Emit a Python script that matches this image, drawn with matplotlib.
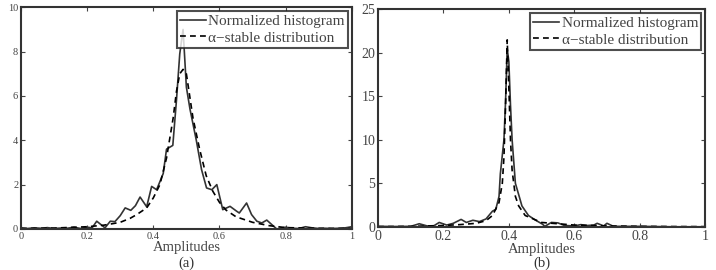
import numpy as np
import matplotlib
matplotlib.use('Agg')
import matplotlib.pyplot as plt

plt.rcParams['font.family'] = ['Liberation Serif', 'DejaVu Serif']

# panel (a): normalized histogram
xa_hist = [0.0, 0.02, 0.04, 0.06, 0.08, 0.10, 0.12, 0.14, 0.16, 0.18, 0.20, 0.215,
           0.229, 0.254, 0.27, 0.284, 0.30, 0.315, 0.332, 0.346, 0.36, 0.38, 0.395,
           0.41, 0.43, 0.44, 0.459, 0.47, 0.48, 0.49, 0.50, 0.511, 0.53, 0.546, 0.561,
           0.577, 0.592, 0.61, 0.632, 0.652, 0.66, 0.682, 0.697, 0.713, 0.728, 0.743,
           0.758, 0.773, 0.80, 0.82, 0.84, 0.86, 0.88, 0.90, 0.92, 0.94, 0.96, 0.98, 1.0]
ya_hist = [0.05, 0.02, 0.05, 0.03, 0.06, 0.02, 0.04, 0.03, 0.08, 0.02, 0.08, 0.05,
           0.35, 0.05, 0.35, 0.33, 0.6, 0.95, 0.84, 1.05, 1.44, 1.0, 1.92,
           1.77, 2.5, 3.6, 3.77, 5.8, 7.9, 9.0, 6.4, 5.4, 4.0, 2.67, 1.85,
           1.77, 2.0, 0.87, 1.02, 0.8, 0.72, 1.17, 0.65, 0.35, 0.27, 0.4,
           0.2, 0.0, 0.08, 0.03, 0.02, 0.1, 0.05, 0.02, 0.03, 0.02, 0.03, 0.05, 0.1]

# panel (a): alpha-stable fit
xa_fit = [0.0, 0.1, 0.2, 0.25, 0.27, 0.30, 0.33, 0.35, 0.38, 0.40, 0.42, 0.44, 0.46,
          0.47, 0.48, 0.49, 0.50, 0.51, 0.52, 0.54, 0.56, 0.58, 0.60, 0.62, 0.65,
          0.70, 0.75, 0.80, 0.90, 1.0]
ya_fit = [0.02, 0.04, 0.1, 0.17, 0.22, 0.3, 0.48, 0.65, 0.95, 1.4, 2.0, 3.2, 5.0,
          6.2, 7.0, 7.2, 7.0, 6.0, 5.0, 3.6, 2.4, 1.7, 1.2, 0.85, 0.55,
          0.3, 0.15, 0.06, 0.03, 0.02]

# panel (b): normalized histogram
xb_hist = [0.0, 0.05, 0.10, 0.126, 0.15, 0.17, 0.187, 0.21, 0.23, 0.254, 0.27, 0.29,
           0.31, 0.33, 0.35, 0.36, 0.37, 0.374, 0.385, 0.39, 0.395, 0.40, 0.405, 0.41,
           0.42, 0.432, 0.44, 0.46, 0.48, 0.503, 0.51, 0.53, 0.55, 0.57, 0.60, 0.62,
           0.64, 0.66, 0.67, 0.69, 0.70, 0.72, 0.80, 0.90, 1.0]
yb_hist = [0.05, 0.03, 0.05, 0.35, 0.1, 0.1, 0.5, 0.2, 0.4, 0.85, 0.5, 0.75,
           0.6, 0.9, 1.8, 2.0, 3.5, 6.1, 10.0, 14.5, 20.5, 19.0, 14.0, 10.0,
           5.0, 3.45, 2.4, 1.3, 0.8, 0.3, 0.05, 0.5, 0.45, 0.15, 0.1, 0.25,
           0.15, 0.2, 0.4, 0.1, 0.4, 0.05, 0.05, 0.0, 0.0]

# panel (b): alpha-stable fit
xb_fit = [0.0, 0.1, 0.2, 0.25, 0.30, 0.33, 0.35, 0.37, 0.38, 0.385, 0.39, 0.395,
          0.40, 0.405, 0.41, 0.42, 0.43, 0.45, 0.50, 0.60, 0.70, 0.80, 0.90, 1.0]
yb_fit = [0.02, 0.05, 0.15, 0.25, 0.4, 0.7, 1.3, 2.8, 5.0, 8.0, 14.0, 21.5,
          16.0, 10.0, 6.5, 3.5, 2.4, 1.3, 0.5, 0.2, 0.1, 0.05, 0.03, 0.02]

fig = plt.figure(figsize=(7.16, 2.7), dpi=100)
ax1 = fig.add_axes([0.0293, 0.152, 0.462, 0.821])
ax2 = fig.add_axes([0.528, 0.160, 0.4567, 0.805])

panels = [
    (ax1, xa_hist, ya_hist, xa_fit, ya_fit, 10, [0, 2, 4, 6, 8, 10], 7.5, '(a)'),
    (ax2, xb_hist, yb_hist, xb_fit, yb_fit, 25, [0, 5, 10, 15, 20, 25], 10, '(b)'),
]

for ax, xh, yh, xf, yf, ymax, yt, tfs, tag in panels:
    ax.plot(xh, yh, color='#333333', lw=1.2, label='Normalized histogram')
    ax.plot(xf, yf, color='black', lw=1.2, ls=(0, (3.5, 2.5)),
            label='α−stable distribution')
    ax.set_xlim(0, 1)
    ax.set_ylim(0, ymax)
    ax.set_xticks([0, 0.2, 0.4, 0.6, 0.8, 1])
    ax.set_xticklabels(['0', '0.2', '0.4', '0.6', '0.8', '1'])
    ax.set_yticks(yt)
    ax.tick_params(direction='in', top=True, right=True, length=3,
                   labelsize=tfs, colors='#444444', pad=2)
    for s in ax.spines.values():
        s.set_linewidth(1.5)
        s.set_color('#333333')
    ax.set_xlabel('Amplitudes', fontsize=10.5, color='#444444', labelpad=0)
    leg = ax.legend(loc='upper right', fontsize=11, frameon=True, fancybox=False,
                    handlelength=1.7, handletextpad=0.15, borderpad=0.2,
                    labelspacing=0.2, borderaxespad=0.25)
    leg.get_frame().set_edgecolor('#222222')
    leg.get_frame().set_linewidth(1.5)
    for t in leg.get_texts():
        t.set_color('#444444')
    bb = ax.get_position()
    fig.text(bb.x0 + bb.width / 2, 0.0, tag, ha='center', va='bottom',
             fontsize=10.5, color='#333333')

fig.savefig('out.png', dpi=100)
